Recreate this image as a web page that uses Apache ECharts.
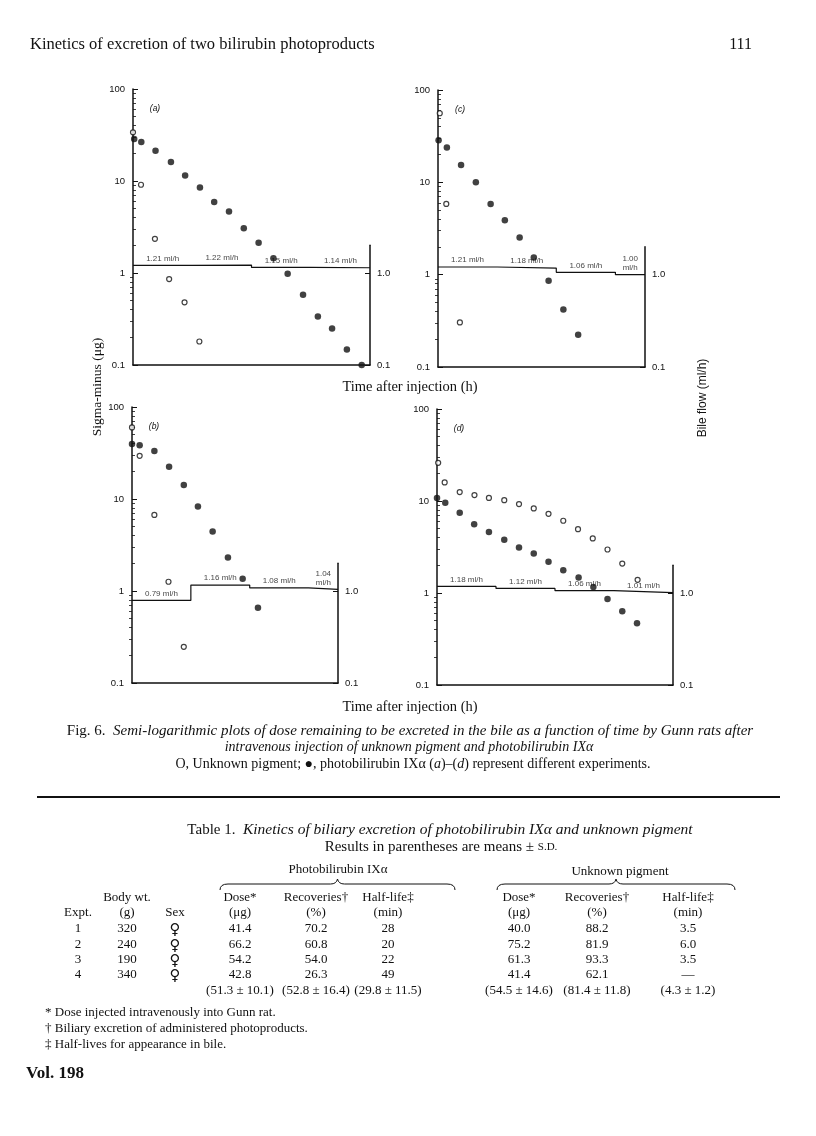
<!DOCTYPE html>
<html>
<head>
<meta charset="utf-8">
<script src="https://cdn.jsdelivr.net/npm/echarts@6/dist/echarts.min.js"></script>
<style>
html, body { margin: 0; padding: 0; background: #fff; }
#page { width: 816px; height: 1136px; }
</style>
</head>
<body>
<div id="page"></div>
<script>
// ---- values: [time (h), sigma-minus (ug)] ----
var photoA = [[0.02,28.6],[0.14,26.5],[0.38,21.3],[0.64,16.1],[0.88,11.5],[1.13,8.5],[1.37,5.9],[1.62,4.67],[1.87,3.07],[2.12,2.13],[2.37,1.45],[2.61,0.98],[2.87,0.58],[3.12,0.336],[3.36,0.25],[3.61,0.147],[3.86,0.1]];
var unknownA = [[0,33.8],[0.135,9.1],[0.37,2.35],[0.61,0.86],[0.87,0.48],[1.12,0.18]];

var photoC = [[0.01,28.5],[0.15,23.8],[0.39,15.4],[0.64,10.0],[0.89,5.84],[1.13,3.89],[1.38,2.53],[1.62,1.53],[1.87,0.86],[2.12,0.42],[2.37,0.223]];
var unknownC = [[0.03,56],[0.14,5.84],[0.37,0.304]];

var photoB = [[0,39.5],[0.13,38.5],[0.38,33.2],[0.63,22.4],[0.88,14.2],[1.12,8.27],[1.37,4.42],[1.63,2.32],[1.88,1.36],[2.14,0.656]];
var unknownB = [[0,60],[0.13,29.5],[0.38,6.71],[0.62,1.26],[0.88,0.247]];

var photoD = [[0,10.8],[0.14,9.57],[0.385,7.45],[0.63,5.6],[0.88,4.59],[1.14,3.79],[1.39,3.12],[1.64,2.69],[1.89,2.18],[2.14,1.77],[2.4,1.47],[2.65,1.16],[2.89,0.863],[3.14,0.634],[3.39,0.469]];
var unknownD = [[0.02,26],[0.13,15.9],[0.385,12.5],[0.635,11.6],[0.88,10.8],[1.14,10.2],[1.39,9.25],[1.64,8.3],[1.89,7.26],[2.14,6.1],[2.39,4.94],[2.64,3.92],[2.89,2.97],[3.14,2.09],[3.4,1.39]];

// bile flow (ml/h) for each collection period
var bileA = [1.21, 1.22, 1.15, 1.14];
var bileB = [0.79, 1.16, 1.08, 1.04];
var bileC = [1.21, 1.18, 1.06, 1.00];
var bileD = [1.18, 1.12, 1.06, 1.01];
var periodsFull = [0, 1, 2, 3, 4];
var periodsShort = [0, 1, 2, 3, 3.5];   // (b) and (c): printed axis stops at 3.5 h, marked "4"

// ticks
var logTicks = [0.1, 1, 10, 100];
var logMinor = [2,3,4,5,6,7,8,9,20,30,40,50,60,70,80,90];
var bileTicks = [0.1, 1];
var bileMinor = [0.2,0.3,0.4,0.5,0.6,0.7,0.8,0.9];
var xTicksFull = [0, 1, 2, 3, 4];
var xTicksShort = [0, 1, 2, 3, 3.5];
var xTickText = ['0', '1', '2', '3', '4'];

// ---- table 1 ----
var tExpt = ['1', '2', '3', '4'];
var tBodyWt = ['320', '240', '190', '340'];
var tSex = ['\u2640', '\u2640', '\u2640', '\u2640'];
var pbDose = ['41.4', '66.2', '54.2', '42.8'];
var pbRecov = ['70.2', '60.8', '54.0', '26.3'];
var pbHalf = ['28', '20', '22', '49'];
var upDose = ['40.0', '75.2', '61.3', '41.4'];
var upRecov = ['88.2', '81.9', '93.3', '62.1'];
var upHalf = ['3.5', '6.0', '3.5', '\u2014'];
var tMeans = ['', '', '', '(51.3 \u00b1 10.1)', '(52.8 \u00b1 16.4)', '(29.8 \u00b1 11.5)', '(54.5 \u00b1 14.6)', '(81.4 \u00b1 11.8)', '(4.3 \u00b1 1.2)'];
var tHead1 = ['', 'Body wt.', '', 'Dose*', 'Recoveries\u2020', 'Half-life\u2021', 'Dose*', 'Recoveries\u2020', 'Half-life\u2021'];
var tHead2 = ['Expt.', '(g)', 'Sex', '(\u03bcg)', '(%)', '(min)', '(\u03bcg)', '(%)', '(min)'];

// ---- layout ----
var INK = '#111';
var SERIF = '"Liberation Serif", "DejaVu Serif", serif';
var SANS = '"Liberation Sans", Arial, sans-serif';

var panels = [
	{ tag: '(a)', photo: photoA, unknown: unknownA, bile: bileA, periods: periodsFull, ticks: xTicksFull, box: [133, 89, 370, 365] },
	{ tag: '(c)', photo: photoC, unknown: unknownC, bile: bileC, periods: periodsShort, ticks: xTicksShort, box: [438, 90, 645, 367] },
	{ tag: '(b)', photo: photoB, unknown: unknownB, bile: bileB, periods: periodsShort, ticks: xTicksShort, box: [132, 407, 338, 683] },
	{ tag: '(d)', photo: photoD, unknown: unknownD, bile: bileD, periods: periodsFull, ticks: xTicksFull, box: [437, 409, 673, 685] }
];

var grids = [], xAxes = [], yAxes = [], series = [], elements = [];

function txt(x, y, text, font, align, extra) {
	var style = { text: text, x: 0, y: 0, fill: INK, font: font,
		textAlign: align || 'center', align: align || 'center',
		textVerticalAlign: 'middle', verticalAlign: 'middle' };
	var el = { type: 'text', x: x, y: y, silent: true, style: style };
	if (extra) { for (var k in extra) { if (k === 'rich') style.rich = extra[k]; else el[k] = extra[k]; } }
	return el;
}

panels.forEach(function (p, i) {
	var L = p.box[0], T = p.box[1], R = p.box[2], B = p.box[3];
	var xMax = p.periods[p.periods.length - 1];
	// right axis (bile flow) runs 0.1 .. 2 on the same log spacing
	var bileTop = B - (B - T) * Math.log10(20) / 3;
	var g = grids.length;
	grids.push({ left: L, top: T, width: R - L, height: B - T, containLabel: false, outerBoundsMode: 'none' });
	grids.push({ left: L, top: bileTop, width: R - L, height: B - bileTop, containLabel: false, outerBoundsMode: 'none' });

	var xi = xAxes.length;
	xAxes.push({
		type: 'value', gridIndex: g, min: 0, max: xMax,
		axisLine: { show: true, onZero: false, lineStyle: { color: INK, width: 1.5 } },
		axisTick: { show: false },
		splitLine: { show: false },
		axisLabel: { show: true, customValues: p.ticks, margin: 5, fontSize: 9.5, fontFamily: SANS, color: INK,
			formatter: function (v, idx) { return xTickText[idx]; } }
	});
	xAxes.push({ type: 'value', gridIndex: g + 1, min: 0, max: xMax, show: false });

	var yi = yAxes.length;
	yAxes.push({
		type: 'log', logBase: 10, gridIndex: g, position: 'left', min: 0.1, max: 100,
		axisLine: { show: true, onZero: false, lineStyle: { color: INK, width: 1.5 } },
		axisTick: { show: true, inside: true, length: 5, customValues: logTicks, lineStyle: { color: INK, width: 1 } },
		axisLabel: { show: true, customValues: logTicks, margin: 8, fontSize: 9.5, fontFamily: SANS, color: INK,
			formatter: function (v) { return v < 0.5 ? '0.1' : String(Math.round(v)); } },
		splitLine: { show: false }
	});
	yAxes.push({
		type: 'log', logBase: 10, gridIndex: g, position: 'left', min: 0.1, max: 100,
		axisLine: { show: false },
		axisTick: { show: true, inside: true, length: 3, customValues: logMinor, lineStyle: { color: INK, width: 0.8 } },
		axisLabel: { show: false },
		splitLine: { show: false }
	});
	yAxes.push({
		type: 'log', logBase: 10, gridIndex: g + 1, position: 'right', min: 0.1, max: 2,
		axisLine: { show: true, onZero: false, lineStyle: { color: INK, width: 1.5 } },
		axisTick: { show: true, inside: true, length: 5, customValues: bileTicks, lineStyle: { color: INK, width: 1 } },
		axisLabel: { show: true, customValues: bileTicks, margin: 7, fontSize: 9.5, fontFamily: SANS, color: INK,
			formatter: function (v) { return v < 0.5 ? '0.1' : '1.0'; } },
		splitLine: { show: false }
	});
	yAxes.push({
		type: 'log', logBase: 10, gridIndex: g + 1, position: 'right', min: 0.1, max: 2,
		axisLine: { show: false },
		axisTick: { show: true, inside: true, length: 3, customValues: bileMinor, lineStyle: { color: INK, width: 0.8 } },
		axisLabel: { show: false },
		splitLine: { show: false }
	});

	// bile flow step line and its labels
	var stepData = [], labelData = [];
	p.bile.forEach(function (v, k) {
		var t0 = p.periods[k], t1 = p.periods[k + 1];
		stepData.push([t0, v]);
		var txtLbl = (t1 - t0 < 1) ? v.toFixed(2) + '\nml/h' : v.toFixed(2) + ' ml/h';
		labelData.push({ value: [(t0 + t1) / 2, v], label: { formatter: txtLbl } });
	});
	stepData.push([xMax, p.bile[p.bile.length - 1]]);

	series.push({
		type: 'line', xAxisIndex: xi + 1, yAxisIndex: yi + 2, data: stepData, step: 'end',
		symbol: 'none', silent: true, lineStyle: { color: INK, width: 1.2 }
	});
	series.push({
		type: 'scatter', xAxisIndex: xi + 1, yAxisIndex: yi + 2, data: labelData, symbolSize: 1,
		silent: true, itemStyle: { color: 'rgba(0,0,0,0)' },
		label: { show: true, position: 'top', distance: 2, fontSize: 8, lineHeight: 9, fontFamily: SANS, color: INK }
	});
	series.push({
		type: 'scatter', xAxisIndex: xi, yAxisIndex: yi, data: p.photo, clip: false,
		symbol: 'circle', symbolSize: 6.5, itemStyle: { color: INK }
	});
	series.push({
		type: 'scatter', xAxisIndex: xi, yAxisIndex: yi, data: p.unknown, clip: false,
		symbol: 'circle', symbolSize: 5, itemStyle: { color: '#fff', borderColor: INK, borderWidth: 1.2 }
	});

	elements.push(txt(L + 22, T + 20, p.tag, 'italic 8.5px ' + SANS));
});

// page header
elements.push(txt(30, 45, 'Kinetics of excretion of two bilirubin photoproducts', '16.5px ' + SERIF, 'left'));
elements.push(txt(752, 45, '111', '16px ' + SERIF, 'right'));

// shared axis titles
elements.push(txt(97, 387, 'Sigma-minus (\u03bcg)', '13.5px ' + SERIF, 'center', { rotation: Math.PI / 2 }));
elements.push(txt(703, 398, 'Bile flow (ml/h)', '12px ' + SANS, 'center', { rotation: Math.PI / 2 }));
elements.push(txt(410, 387, 'Time after injection (h)', '14.5px ' + SERIF));
elements.push(txt(410, 707, 'Time after injection (h)', '14.5px ' + SERIF));

// caption
function capRich(sz) {
	return { r: { font: sz + 'px ' + SERIF, fill: INK }, i: { font: 'italic ' + sz + 'px ' + SERIF, fill: INK } };
}
elements.push(txt(410, 731, '{r|Fig. 6.}  {i|Semi-logarithmic plots of dose remaining to be excreted in the bile as a function of time by Gunn rats after}', '15px ' + SERIF, 'center', { rich: capRich(15) }));
elements.push(txt(409, 747, '{i|intravenous injection of unknown pigment and photobilirubin IX\u03b1}', '14px ' + SERIF, 'center', { rich: capRich(14) }));
elements.push(txt(413, 764, '{r|O, Unknown pigment; \u25cf, photobilirubin IX\u03b1 (}{i|a}{r|)\u2013(}{i|d}{r|) represent different experiments.}', '14px ' + SERIF, 'center', { rich: capRich(14) }));

elements.push({ type: 'line', silent: true, shape: { x1: 37, y1: 797, x2: 780, y2: 797 }, style: { stroke: INK, lineWidth: 2 } });

// table title
var tabRich = {
	r: { font: '15px ' + SERIF, fill: INK },
	i: { font: 'italic 15.5px ' + SERIF, fill: INK },
	r2: { font: '15px ' + SERIF, fill: INK },
	s: { font: '11px ' + SERIF, fill: INK }
};
elements.push(txt(440, 830, '{r|Table 1.  }{i|Kinetics of biliary excretion of photobilirubin IX\u03b1 and unknown pigment}', '15px ' + SERIF, 'center', { rich: tabRich }));
elements.push(txt(441, 847, '{r2|Results in parentheses are means \u00b1 }{s|S.D.}', '15px ' + SERIF, 'center', { rich: tabRich }));

// group headers and braces
elements.push(txt(338, 870, 'Photobilirubin IX\u03b1', '13px ' + SERIF));
elements.push(txt(620, 872, 'Unknown pigment', '13px ' + SERIF));

function brace(x1, x2, y) {
	var mid = (x1 + x2) / 2, st = { stroke: INK, lineWidth: 1, fill: null };
	return [
		{ type: 'bezierCurve', silent: true, shape: { x1: x1, y1: y + 6, cpx1: x1, cpy1: y, x2: x1 + 8, y2: y }, style: st },
		{ type: 'line', silent: true, shape: { x1: x1 + 8, y1: y, x2: mid - 7, y2: y }, style: st },
		{ type: 'bezierCurve', silent: true, shape: { x1: mid - 7, y1: y, cpx1: mid - 1, cpy1: y, x2: mid, y2: y - 5 }, style: st },
		{ type: 'bezierCurve', silent: true, shape: { x1: mid, y1: y - 5, cpx1: mid + 1, cpy1: y, x2: mid + 7, y2: y }, style: st },
		{ type: 'line', silent: true, shape: { x1: mid + 7, y1: y, x2: x2 - 8, y2: y }, style: st },
		{ type: 'bezierCurve', silent: true, shape: { x1: x2 - 8, y1: y, cpx1: x2, cpy1: y, x2: x2, y2: y + 6 }, style: st }
	];
}
elements = elements.concat(brace(220, 455, 884), brace(497, 735, 884));

// table body
var colX = [78, 127, 175, 240, 316, 388, 519, 597, 688];
var rowY = [929, 945, 960, 975];
var tableCols = [tExpt, tBodyWt, tSex, pbDose, pbRecov, pbHalf, upDose, upRecov, upHalf];
var cellFont = '13px ' + SERIF;
var sexFont = '15px "DejaVu Sans", sans-serif';
colX.forEach(function (x, c) {
	if (tHead1[c]) elements.push(txt(x, 898, tHead1[c], cellFont));
	elements.push(txt(x, 913, tHead2[c], cellFont));
	tableCols[c].forEach(function (v, r) { elements.push(txt(x, rowY[r] + (c === 2 ? 1 : 0), v, c === 2 ? sexFont : cellFont)); });
	if (tMeans[c]) elements.push(txt(x, 991, tMeans[c], cellFont));
});

// footnotes
elements.push(txt(45, 1013, '* Dose injected intravenously into Gunn rat.', cellFont, 'left'));
elements.push(txt(45, 1029, '\u2020 Biliary excretion of administered photoproducts.', cellFont, 'left'));
elements.push(txt(45, 1045, '\u2021 Half-lives for appearance in bile.', cellFont, 'left'));
elements.push(txt(26, 1074, 'Vol. 198', 'bold 17px ' + SERIF, 'left'));

var chart = echarts.init(document.getElementById('page'), null, { width: 816, height: 1136, renderer: 'canvas' });
chart.setOption({
	animation: false,
	backgroundColor: '#fff',
	grid: grids,
	xAxis: xAxes,
	yAxis: yAxes,
	series: series,
	graphic: { elements: elements }
});
</script>
</body>
</html>
